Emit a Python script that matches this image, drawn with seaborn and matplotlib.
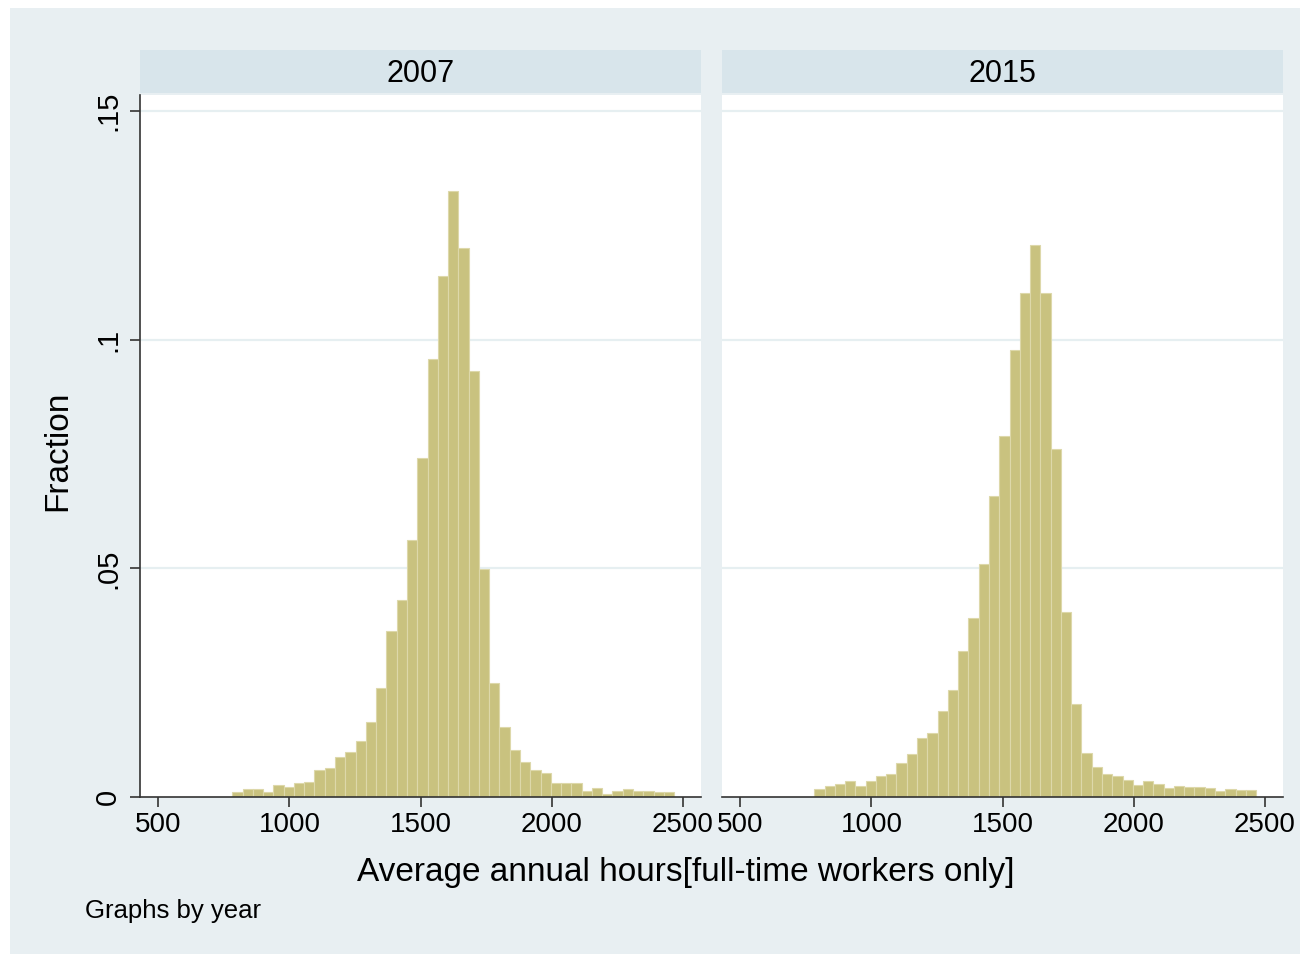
import numpy as np
import pandas as pd
import seaborn as sns
import matplotlib.pyplot as plt
from matplotlib.patches import Rectangle

# bins (same bins in both panels)
bin_start = 782
bin_width = 39.2
n_bins = 43

frac_2007 = [0.0012, 0.0017, 0.0017, 0.0012, 0.0027, 0.0022, 0.0030, 0.0033, 0.0059, 0.0063,
             0.0088, 0.0099, 0.0123, 0.0165, 0.0238, 0.0362, 0.0430, 0.0561, 0.0741, 0.0958,
             0.1139, 0.1325, 0.1200, 0.0932, 0.0499, 0.0249, 0.0152, 0.0102, 0.0076, 0.0059,
             0.0053, 0.0030, 0.0030, 0.0030, 0.0013, 0.0020, 0.0007, 0.0013, 0.0017, 0.0013,
             0.0013, 0.0011, 0.0011]
frac_2015 = [0.0018, 0.0023, 0.0028, 0.0034, 0.0024, 0.0034, 0.0047, 0.0051, 0.0074, 0.0093,
             0.0130, 0.0140, 0.0187, 0.0235, 0.0320, 0.0391, 0.0509, 0.0659, 0.0789, 0.0977,
             0.1103, 0.1208, 0.1103, 0.0760, 0.0404, 0.0203, 0.0097, 0.0065, 0.0051, 0.0045,
             0.0037, 0.0027, 0.0034, 0.0028, 0.0020, 0.0024, 0.0022, 0.0022, 0.0019, 0.0014,
             0.0018, 0.0016, 0.0016]
years = ["2007", "2015"]

bin_end = bin_start + bin_width * n_bins
mids = bin_start + bin_width * (np.arange(n_bins) + 0.5)
df = pd.DataFrame({
    "year": np.repeat(years, n_bins),
    "hours": np.tile(mids, 2),
    "fraction": frac_2007 + frac_2015,
})

sns.set_theme(style="white")
plt.rcParams['font.family'] = ['Liberation Sans', 'DejaVu Sans']
plt.rcParams['text.color'] = 'black'
plt.rcParams['xtick.color'] = 'black'
plt.rcParams['ytick.color'] = 'black'

bg = "#e8eff2"
strip_col = "#d8e5eb"
bar_col = "#c9c27f"
grid_col = "#e6eff1"
axis_col = "#333333"

fig = plt.figure(figsize=(13.1, 9.6), dpi=100)
fig.patch.set_facecolor("white")
fig.patches.append(Rectangle((10 / 1310, 6 / 960), 1290 / 1310, 946 / 960,
                             transform=fig.transFigure, facecolor=bg, edgecolor="none", zorder=-10))

panel_x = [140 / 1310, 722 / 1310]
panel_w = 561 / 1310
ax_y0 = (960 - 797) / 960
ax_h = (797 - 95) / 960

for i, yr in enumerate(years):
    ax = fig.add_axes([panel_x[i], ax_y0, panel_w, ax_h])
    ax.set_facecolor("white")
    sub = df[df["year"] == yr]
    sns.histplot(data=sub, x="hours", weights="fraction", binwidth=bin_width,
                 binrange=(bin_start, bin_end), ax=ax, stat="count", color=bar_col,
                 alpha=1, edgecolor="#ddd8aa", linewidth=0.8)
    ax.set_xlim(430, 2570)
    ax.set_ylim(0, 0.1535)
    for g in [0.05, 0.1, 0.15]:
        ax.axhline(g, color=grid_col, lw=1.6, zorder=0)
    ax.set_axisbelow(True)
    ax.set_xticks([500, 1000, 1500, 2000, 2500])
    ax.tick_params(axis="x", direction="out", length=7, width=1.2, color=axis_col,
                   labelsize=20, labelcolor="black", pad=4, bottom=True)
    for s in ["top", "right"]:
        ax.spines[s].set_visible(False)
    ax.spines["bottom"].set_color(axis_col)
    ax.spines["bottom"].set_linewidth(1.2)
    ax.set_xlabel("")
    ax.set_ylabel("")
    if i == 0:
        ax.spines["left"].set_color(axis_col)
        ax.spines["left"].set_linewidth(1.2)
        ax.set_yticks([0, 0.05, 0.1, 0.15])
        ax.set_yticklabels(["0", ".05", ".1", ".15"], rotation=90, va="center")
        ax.tick_params(axis="y", direction="out", length=7, width=1.2, color=axis_col,
                       labelsize=21, labelcolor="black", pad=6, left=True)
    else:
        ax.spines["left"].set_visible(False)
        ax.set_yticks([])

    strip = fig.add_axes([panel_x[i], (960 - 93) / 960, panel_w, 43 / 960])
    strip.set_facecolor(strip_col)
    strip.set_xticks([])
    strip.set_yticks([])
    for s in strip.spines.values():
        s.set_visible(False)
    strip.text(0.5, 0.45, yr, ha="center", va="center", fontsize=22, color="black",
               transform=strip.transAxes)

fig.text(58 / 1310, 1 - 451 / 960, "Fraction", rotation=90, ha="center", va="center",
         fontsize=24, color="black")
fig.text(686 / 1310, 1 - 872 / 960, "Average annual hours[full-time workers only]",
         ha="center", va="center", fontsize=24, color="black")
fig.text(85 / 1310, 1 - 911 / 960, "Graphs by year", ha="left", va="center",
         fontsize=18.5, color="black")

fig.savefig("out.png", dpi=100, facecolor=fig.get_facecolor())
